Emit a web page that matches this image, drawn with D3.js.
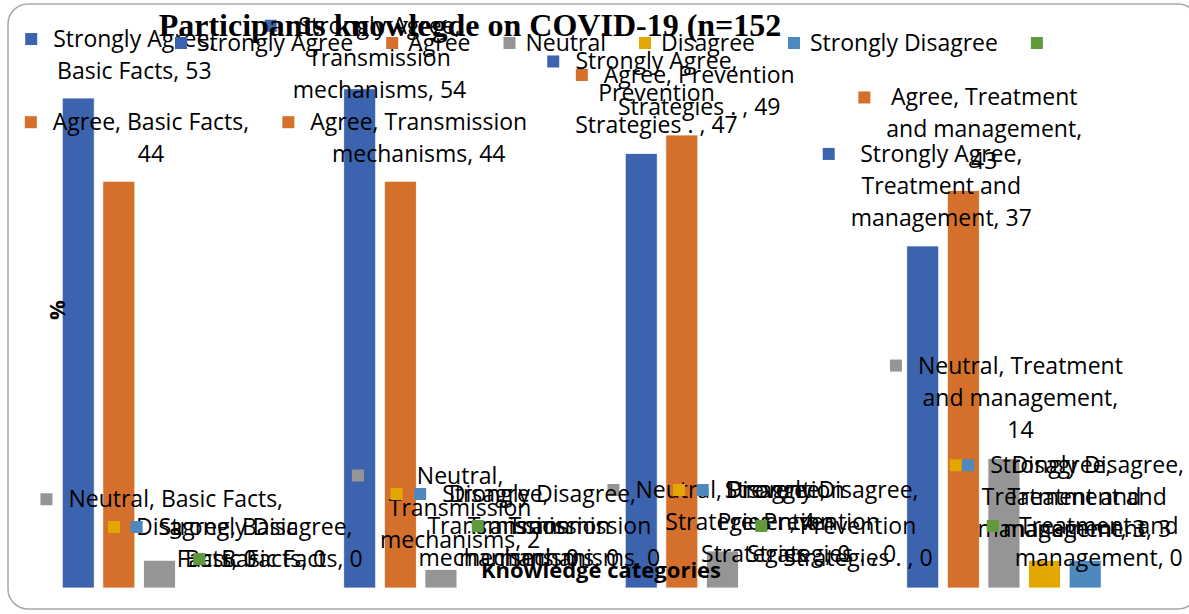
<!DOCTYPE html>
<html lang="en">

<head>
    <meta charset="UTF-8">
    <title>Participants knowledge on COVID-19</title>
    <script src="https://d3js.org/d3.v7.min.js"></script>
    <style>
        * {
            margin: 0;
            padding: 0;
        }

        body {
            background: #fff;
        }

        .lbl text,
        .legend text {
            font-family: "Open Sans", Carlito, Calibri, sans-serif;
            font-size: 23px;
            fill: #000;
        }
    </style>
</head>

<body>
    <script>
        // categories + series (in %)
        var categories = ["Basic Facts", "Transmission mechanisms", "Prevention Strategies . ", "Treatment and management"];
        var seriesNames = ["Strongly Agree", "Agree", "Neutral", "Disagree", "Strongly Disagree", ""];
        var stronglyAgree = [53, 54, 47, 37];
        var agree = [44, 44, 49, 43];
        var neutral = [3, 2, 4, 14];
        var disagree = [0, 0, 0, 3];
        var stronglyDisagree = [0, 0, 0, 3];
        var blankSeries = [0, 0, 0, 0];
        var colors = ["#3c63ad", "#d4702b", "#959595", "#e2a700", "#4d89be", "#5f9a3c"];

        var values = [stronglyAgree, agree, neutral, disagree, stronglyDisagree, blankSeries];

        // where excel left the (dragged) data labels: offset of the key square from the bar top,
        // and how many words go on each line
        var labelOffset = [
            [[-47, -59], [-89, -63], [-88, -92], [-94, -92]],
            [[-88, -59], [-112, -59], [-100, -60], [-99, -93]],
            [[-113, -61], [-83, -94], [-109, -61], [-108, -93]],
            [[-86, -61], [-85, -94], [-84, -98], [-89, -95]],
            [[-104, -61], [-102, -94], [-101, -98], [-117, -95]],
            [[-82, -29], [-85, -62], [-83, -62], [-133, -62]]
        ];
        var labelBreaks = [
            [[2, 3], [2, 1, 2], [2, 1, 4], [2, 2, 2]],
            [[3, 1], [2, 2], [2, 4], [2, 2, 1]],
            [[3, 1], [1, 1, 2], [2, 4], [2, 2, 1]],
            [[2, 2], [1, 1, 2], [1, 1, 4], [1, 2, 2]],
            [[2, 3], [2, 1, 2], [2, 1, 4], [2, 2, 2]],
            [[3], [1, 2], [1, 4], [2, 2]]
        ];

        var W = 1189, H = 614;
        var svg = d3.select("body").append("svg")
            .attr("width", W)
            .attr("height", H);

        // chart area border
        svg.append("rect")
            .attr("x", 8).attr("y", 4)
            .attr("width", 1190).attr("height", 605)
            .attr("rx", 20)
            .attr("fill", "#fff")
            .attr("stroke", "#a9a9a9")
            .attr("stroke-width", 1.5);

        var x0 = d3.scaleBand()
            .domain(categories)
            .range([39, 1165])
            .paddingInner(0.165)
            .paddingOuter(0.0825);
        var x1 = d3.scaleBand()
            .domain(d3.range(seriesNames.length))
            .range([0, x0.bandwidth()])
            .paddingInner(0.212);
        var y = d3.scaleLinear()
            .domain([0, 60])
            .range([588, 588 - 60 * 9.245]);

        var cells = [];
        values.forEach(function (arr, s) {
            arr.forEach(function (v, c) {
                cells.push({ s: s, c: c, v: v });
            });
        });

        // bars
        svg.append("g").selectAll("rect")
            .data(cells)
            .enter()
            .append("rect")
            .attr("x", function (d) { return x0(categories[d.c]) + x1(d.s); })
            .attr("y", function (d) { return y(d.v); })
            .attr("width", x1.bandwidth())
            .attr("height", function (d) { return y(0) - y(d.v); })
            .attr("fill", function (d) { return colors[d.s]; })
            .attr("stroke", "#fff")
            .attr("stroke-width", 0.8);

        // data labels (key square + wrapped text, centred)
        var lineH = 32;
        var labels = svg.append("g").attr("class", "lbl");
        cells.forEach(function (d) {
            var txt = (seriesNames[d.s] ? seriesNames[d.s] + ", " : "") + categories[d.c] + ", " + d.v;
            var words = txt.split(" ");
            var lines = [], k = 0;
            labelBreaks[d.s][d.c].forEach(function (n) {
                lines.push(words.slice(k, k + n).join(" "));
                k += n;
            });
            var off = labelOffset[d.s][d.c];
            var kx = x0(categories[d.c]) + x1(d.s) + x1.bandwidth() / 2 + off[0];
            var ky = y(d.v) + off[1];
            var g = labels.append("g");
            g.append("rect")
                .attr("x", kx - 6).attr("y", ky - 6)
                .attr("width", 12).attr("height", 12)
                .attr("fill", colors[d.s]);
            var t = g.selectAll("text")
                .data(lines)
                .enter()
                .append("text")
                .attr("y", function (l, i) { return ky + 8 + i * lineH; })
                .attr("text-anchor", "middle")
                .text(function (l) { return l; });
            var wMax = 0;
            t.each(function () { wMax = Math.max(wMax, this.getComputedTextLength()); });
            t.attr("x", kx + 22 + wMax / 2);
        });

        // axis titles
        svg.append("text")
            .attr("x", 601).attr("y", 578)
            .attr("text-anchor", "middle")
            .attr("font-family", "'Open Sans', Carlito, Calibri, sans-serif")
            .attr("font-weight", "bold")
            .attr("font-size", "22px")
            .text("Knowledge categories");
        svg.append("text")
            .attr("transform", "translate(65,310) rotate(-90)")
            .attr("text-anchor", "middle")
            .attr("font-family", "'Open Sans', Carlito, Calibri, sans-serif")
            .attr("font-weight", "bold")
            .attr("font-size", "22px")
            .text("%");

        // legend
        var legend = svg.append("g").attr("class", "legend");
        var lx = 175;
        seriesNames.forEach(function (name, s) {
            legend.append("rect")
                .attr("x", lx).attr("y", 37)
                .attr("width", 12).attr("height", 12)
                .attr("fill", colors[s]);
            var tt = legend.append("text")
                .attr("x", lx + 22).attr("y", 51)
                .text(name);
            lx += 22 + tt.node().getComputedTextLength() + 33;
        });

        // title
        svg.append("text")
            .attr("x", 470).attr("y", 36)
            .attr("text-anchor", "middle")
            .attr("font-family", "'Liberation Serif', 'Times New Roman', serif")
            .attr("font-weight", "bold")
            .attr("font-size", "32px")
            .text("Participants knowlegde on COVID-19 (n=152");
    </script>
</body>

</html>
